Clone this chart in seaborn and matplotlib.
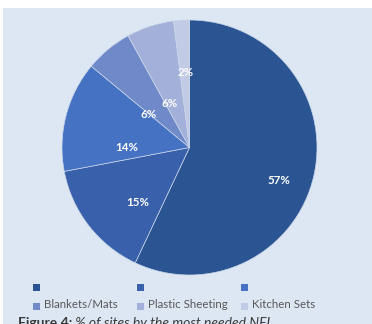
import matplotlib
matplotlib.use("Agg")
import matplotlib.pyplot as plt
from matplotlib.patches import Rectangle
import numpy as np
import seaborn as sns

# Most needed non-food items, % of sites
categories = ["", "", "", "Blankets/Mats", "Plastic Sheeting", "Kitchen Sets"]
shares = [57, 15, 14, 6, 6, 2]
slice_colors = ["#2b5592", "#3961ab", "#4572c3", "#7089c8", "#a3b1da", "#c1cbe6"]
caption_bold = "Figure 4:"
caption_rest = " % of sites by the most needed NFI"

# label placement inside the wedges (fraction of radius, angular nudge in degrees)
label_radius = [0.75, 0.59, 0.49, 0.41, 0.38, 0.59]
label_nudge = [-7.3, 8.8, 14.4, 11.4, 5.7, -0.9]

sns.set_theme(style="white")
plt.rcParams["font.family"] = ["Lato", "DejaVu Sans"]

W, H = 372, 324
fig = plt.figure(figsize=(W / 100, H / 100), dpi=100)
fig.patch.set_facecolor("white")
bg = "#dde7f3"
fig.patches.append(Rectangle((3 / W, 0), 1, 1 - 8 / H, transform=fig.transFigure,
                             facecolor=bg, edgecolor="none", zorder=-5))

cx, cy, R = 189.5, 147.5, 127.5
ax = fig.add_axes([(cx - R) / W, (H - cy - R) / H, 2 * R / W, 2 * R / H])
ax.set_facecolor("none")
ax.set_zorder(2)
palette = sns.color_palette(slice_colors)
wedges, _ = ax.pie(shares, colors=palette, startangle=90, counterclock=False,
                   radius=1.0, wedgeprops=dict(edgecolor="#c9d6ea", linewidth=0.5))
ax.set_xlim(-1, 1)
ax.set_ylim(-1, 1)
ax.set_aspect("equal")
ax.axis("off")

for w, val, r, nudge in zip(wedges, shares, label_radius, label_nudge):
    mid = np.deg2rad((w.theta1 + w.theta2) / 2 + nudge)
    ax.text(r * np.cos(mid), r * np.sin(mid), f"{val}%", color="white",
            fontsize=8.3, fontweight="bold", ha="center", va="center")

# legend: three columns, two rows
x0, dx = 33, 104
rows_y = [287, 304]
sq = 7
for i, (lab, col) in enumerate(zip(categories, palette)):
    c, rrow = i % 3, i // 3
    x = x0 + c * dx
    y = rows_y[rrow]
    yoff = 2 if rrow == 1 else 0
    fig.patches.append(Rectangle((x / W, (H - (y + yoff) - sq / 2) / H), sq / W, sq / H,
                                 transform=fig.transFigure, facecolor=col,
                                 edgecolor="none", zorder=2))
    fig.text((x + sq + 4) / W, (H - y) / H, lab, fontsize=8.3, color="#595959",
             ha="left", va="center")

t1 = fig.text(18 / W, -3 / H, caption_bold, fontsize=10, fontweight="bold",
              color="#3a3a3a", ha="left", va="baseline")
fig.canvas.draw()
bb = t1.get_window_extent(renderer=fig.canvas.get_renderer())
fig.text(bb.x1 / W, -3 / H, caption_rest, fontsize=10, fontstyle="italic",
         color="#3a3a3a", ha="left", va="baseline")

fig.savefig("out.png", dpi=100)
